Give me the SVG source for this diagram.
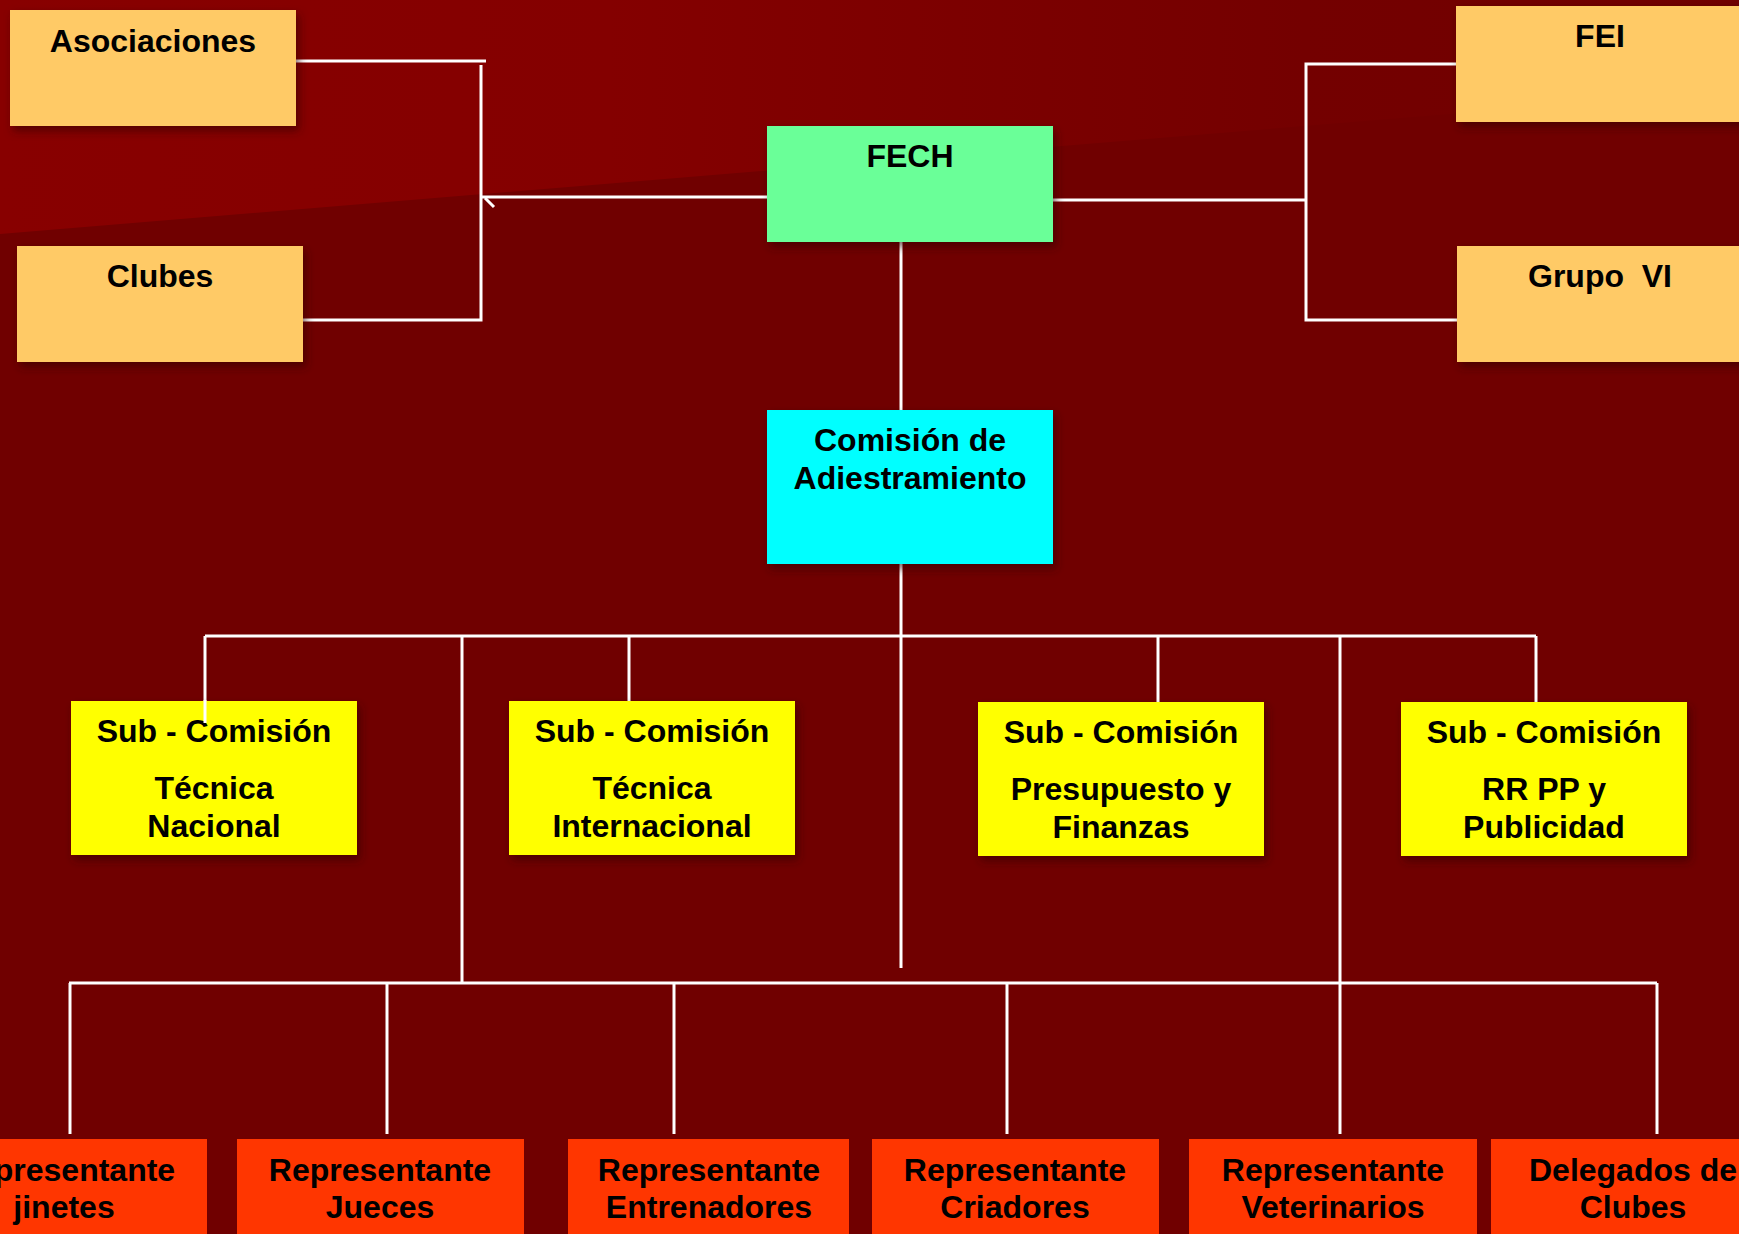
<svg xmlns="http://www.w3.org/2000/svg" width="1739" height="1234" viewBox="0 0 1739 1234">
<style>
text{font-family:"Liberation Sans",Arial,sans-serif;font-weight:bold;font-size:32px;fill:#000;text-anchor:middle}
.ln{stroke:#fff;stroke-width:3;fill:none}
.org{fill:#FFCA66}
.grn{fill:#6BFF98}
.cyn{fill:#00FFFF}
.yel{fill:#FFFF00}
.red{fill:#FF3600}
</style>
<defs>
<linearGradient id="bgTop" x1="0" y1="0" x2="1" y2="0">
<stop offset="0" stop-color="#880000"/>
<stop offset="0.35" stop-color="#840000"/>
<stop offset="0.75" stop-color="#740000"/>
<stop offset="1" stop-color="#700000"/>
</linearGradient>
<filter id="sh" x="-10%" y="-10%" width="125%" height="130%">
<feDropShadow dx="3" dy="5" stdDeviation="4" flood-color="#300000" flood-opacity="0.6"/>
</filter>
</defs>
<rect x="0" y="0" width="1739" height="1234" fill="#700000"/>
<polygon points="0,0 1739,0 1739,90 0,234" fill="url(#bgTop)"/>

<g id="connectors">
<polyline class="ln" points="296,61 486,61"/>
<polyline class="ln" points="481,65 481,320 303,320"/>
<polyline class="ln" points="480,197 767,197"/>
<line class="ln" x1="485" y1="198" x2="494" y2="207" stroke-width="2"/>
<polyline class="ln" points="1053,200 1306,200"/>
<polyline class="ln" points="1456,64 1306,64 1306,320 1457,320"/>
<line class="ln" x1="901" y1="242" x2="901" y2="410"/>
<line class="ln" x1="901" y1="564" x2="901" y2="968"/>
<line class="ln" x1="205" y1="636" x2="1536" y2="636"/>
<line class="ln" x1="629" y1="636" x2="629" y2="701"/>
<line class="ln" x1="1158" y1="636" x2="1158" y2="702"/>
<line class="ln" x1="1536" y1="636" x2="1536" y2="702"/>
<line class="ln" x1="462" y1="636" x2="462" y2="983"/>
<line class="ln" x1="1340" y1="636" x2="1340" y2="983"/>
<line class="ln" x1="69" y1="983" x2="1657" y2="983" stroke-width="4"/>
<line class="ln" x1="70" y1="983" x2="70" y2="1134"/>
<line class="ln" x1="387" y1="983" x2="387" y2="1134"/>
<line class="ln" x1="674" y1="983" x2="674" y2="1134"/>
<line class="ln" x1="1007" y1="983" x2="1007" y2="1134"/>
<line class="ln" x1="1340" y1="983" x2="1340" y2="1134"/>
<line class="ln" x1="1657" y1="983" x2="1657" y2="1134"/>
<line class="ln" x1="205" y1="636" x2="205" y2="701"/>
</g>

<g id="asociaciones"><rect class="org" x="10" y="10" width="286" height="116" filter="url(#sh)"/><text x="153" y="52">Asociaciones</text></g>
<g id="clubes"><rect class="org" x="17" y="246" width="286" height="116" filter="url(#sh)"/><text x="160" y="287">Clubes</text></g>
<g id="fech"><rect class="grn" x="767" y="126" width="286" height="116" filter="url(#sh)"/><text x="910" y="167">FECH</text></g>
<g id="fei"><rect class="org" x="1456" y="6" width="286" height="116" filter="url(#sh)"/><text x="1600" y="47">FEI</text></g>
<g id="grupo-vi"><rect class="org" x="1457" y="246" width="286" height="116" filter="url(#sh)"/><text x="1600" y="287" xml:space="preserve">Grupo  VI</text></g>
<g id="comision"><rect class="cyn" x="767" y="410" width="286" height="154" filter="url(#sh)"/><text x="910" y="451">Comisión de</text><text x="910" y="489">Adiestramiento</text></g>

<g id="sub-nacional"><rect class="yel" x="71" y="701" width="286" height="154" filter="url(#sh)"/><text x="214" y="742">Sub - Comisión</text><text x="214" y="799">Técnica</text><text x="214" y="837">Nacional</text></g>
<line class="ln" x1="205" y1="700" x2="205" y2="723"/>
<g id="sub-internacional"><rect class="yel" x="509" y="701" width="286" height="154" filter="url(#sh)"/><text x="652" y="742">Sub - Comisión</text><text x="652" y="799">Técnica</text><text x="652" y="837">Internacional</text></g>
<g id="sub-presupuesto"><rect class="yel" x="978" y="702" width="286" height="154" filter="url(#sh)"/><text x="1121" y="743">Sub - Comisión</text><text x="1121" y="800">Presupuesto y</text><text x="1121" y="838">Finanzas</text></g>
<g id="sub-rrpp"><rect class="yel" x="1401" y="702" width="286" height="154" filter="url(#sh)"/><text x="1544" y="743">Sub - Comisión</text><text x="1544" y="800">RR PP y</text><text x="1544" y="838">Publicidad</text></g>

<g id="rep-jinetes"><rect class="red" x="-79" y="1139" width="286" height="120"/><text x="64" y="1181">Representante</text><text x="64" y="1218">jinetes</text></g>
<g id="rep-jueces"><rect class="red" x="237" y="1139" width="287" height="120"/><text x="380" y="1181">Representante</text><text x="380" y="1218">Jueces</text></g>
<g id="rep-entrenadores"><rect class="red" x="568" y="1139" width="281" height="120"/><text x="709" y="1181">Representante</text><text x="709" y="1218">Entrenadores</text></g>
<g id="rep-criadores"><rect class="red" x="872" y="1139" width="287" height="120"/><text x="1015" y="1181">Representante</text><text x="1015" y="1218">Criadores</text></g>
<g id="rep-veterinarios"><rect class="red" x="1189" y="1139" width="288" height="120"/><text x="1333" y="1181">Representante</text><text x="1333" y="1218">Veterinarios</text></g>
<g id="delegados"><rect class="red" x="1491" y="1139" width="286" height="120"/><text x="1633" y="1181">Delegados de</text><text x="1633" y="1218">Clubes</text></g>
</svg>
